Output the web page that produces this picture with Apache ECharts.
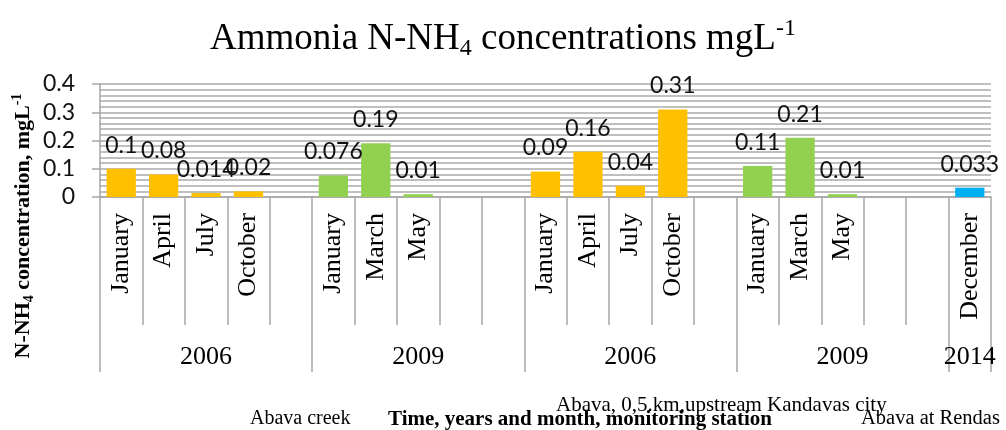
<!DOCTYPE html>
<html>
<head>
<meta charset="utf-8">
<script src="https://cdn.jsdelivr.net/npm/echarts@6/dist/echarts.min.js"></script>
<style>
  html, body { margin: 0; padding: 0; background: #fff; }
  #chart { width: 1006px; height: 430px; }
</style>
</head>
<body>
<div id="chart"></div>
<script>
// month slots, empty strings are blank slots on the axis
const months = [
  'January', 'April', 'July', 'October', '',
  'January', 'March', 'May', '', '',
  'January', 'April', 'July', 'October', '',
  'January', 'March', 'May', '', '',
  'December'
]
const values = [
  0.1, 0.08, 0.014, 0.02, null,
  0.076, 0.19, 0.01, null, null,
  0.09, 0.16, 0.04, 0.31, null,
  0.11, 0.21, 0.01, null, null,
  0.033
]
const years = ['2006', '2009', '2006', '2009', '2014']
const groupSizes = [5, 5, 5, 5, 1]
const stations = ['Abava creek', 'Abava, 0,5.km,upstream Kandavas city', 'Abava at Rendas']
const yTicks = [0, 0.1, 0.2, 0.3, 0.4]

const groupColors = ['#FFC000', '#92D050', '#FFC000', '#92D050', '#00B0F0']
const gridColor = '#bfbfbf'
const axisColor = '#a6a6a6'
const serif = '"Liberation Serif", "DejaVu Serif", serif'
const sans = 'Lato, "Open Sans", sans-serif'

// group boundaries and centres in category units
const bounds = [0]
groupSizes.forEach((s) => bounds.push(bounds[bounds.length - 1] + s))
const centers = years.map((_, i) => (bounds[i] + bounds[i + 1]) / 2)
const groupOf = (idx) => {
  for (let g = 0; g < groupSizes.length; g++) {
    if (idx < bounds[g + 1]) return g
  }
  return groupSizes.length - 1
}

const chart = echarts.init(document.getElementById('chart'))

chart.setOption({
  animation: false,
  title: {
    text: '{m|Ammonia N-NH}{sub|4}{m| concentrations mgL}{sup|-1}',
    left: 'center',
    top: 12,
    textStyle: {
      fontWeight: 'normal',
      rich: {
        m: { fontFamily: serif, fontSize: 37, fontWeight: 'normal', color: '#000', lineHeight: 44 },
        sub: { fontFamily: serif, fontSize: 24, fontWeight: 'normal', color: '#000', lineHeight: 22, verticalAlign: 'bottom' },
        sup: { fontFamily: serif, fontSize: 24, fontWeight: 'normal', color: '#000', lineHeight: 24, verticalAlign: 'top' }
      }
    }
  },
  grid: { left: 100, right: 15, top: 84, bottom: 233 },
  xAxis: [
    {
      type: 'category',
      data: months,
      position: 'bottom',
      axisLine: { lineStyle: { color: axisColor, width: 1.5 } },
      axisTick: { show: true, interval: 0, length: 128, lineStyle: { color: axisColor, width: 1.5 } },
      axisLabel: {
        interval: 0,
        rotate: 90,
        margin: 16,
        fontFamily: serif,
        fontSize: 26,
        color: '#000'
      }
    },
    {
      type: 'value',
      min: 0,
      max: months.length,
      position: 'bottom',
      axisLine: { show: false },
      splitLine: { show: false },
      axisTick: {
        show: true,
        customValues: bounds,
        length: 175,
        lineStyle: { color: axisColor, width: 1.5 }
      },
      axisLabel: {
        customValues: centers,
        margin: 147,
        fontFamily: serif,
        fontSize: 26,
        color: '#000',
        formatter: (v) => years[centers.indexOf(v)] || ''
      }
    }
  ],
  yAxis: {
    type: 'value',
    min: yTicks[0],
    max: yTicks[yTicks.length - 1],
    interval: 0.1,
    axisLine: { show: true, lineStyle: { color: axisColor, width: 1.5 } },
    axisTick: { show: true, length: 8, lineStyle: { color: axisColor, width: 1.5 } },
    axisLabel: {
      margin: 25,
      fontFamily: sans,
      fontSize: 23,
      color: '#111',
      formatter: (v) => String(+v.toFixed(2))
    },
    splitLine: { lineStyle: { color: gridColor, width: 2 } },
    minorTick: { show: false, splitNumber: 5 },
    minorSplitLine: { show: true, lineStyle: { color: gridColor, width: 2 } }
  },
  graphic: [
    {
      type: 'text',
      x: 23,
      y: 226,
      rotation: Math.PI / 2,
      style: {
        text: '{b|N-NH}{sub|4}{b| concentration, mgL}{sup|-1}',
        align: 'center',
        verticalAlign: 'middle',
        rich: {
          b: { fontFamily: serif, fontSize: 22, fontWeight: 'bold', fill: '#000', lineHeight: 26 },
          sub: { fontFamily: serif, fontSize: 14, fontWeight: 'bold', fill: '#000', lineHeight: 14, verticalAlign: 'bottom' },
          sup: { fontFamily: serif, fontSize: 14, fontWeight: 'bold', fill: '#000', lineHeight: 14, verticalAlign: 'top' }
        }
      }
    },
    {
      type: 'text', x: 250, y: 419,
      style: { text: stations[0], font: '20px ' + serif, fill: '#000', align: 'left', verticalAlign: 'middle' }
    },
    {
      type: 'text', x: 388, y: 420,
      style: { text: 'Time, years and month, monitoring station', font: 'bold 21px ' + serif, fill: '#000', align: 'left', verticalAlign: 'middle' }
    },
    {
      type: 'text', x: 556, y: 405,
      style: { text: stations[1], font: '21px ' + serif, fill: '#000', align: 'left', verticalAlign: 'middle' }
    },
    {
      type: 'text', x: 861, y: 419,
      style: { text: stations[2], font: '20.5px ' + serif, fill: '#000', align: 'left', verticalAlign: 'middle' }
    }
  ],
  series: [
    {
      type: 'bar',
      xAxisIndex: 0,
      data: values,
      barWidth: '69%',
      itemStyle: {
        color: (p) => groupColors[groupOf(p.dataIndex)]
      },
      label: {
        show: true,
        position: 'top',
        distance: 12,
        fontFamily: sans,
        fontSize: 23,
        color: '#111'
      }
    }
  ]
})
</script>
</body>
</html>
